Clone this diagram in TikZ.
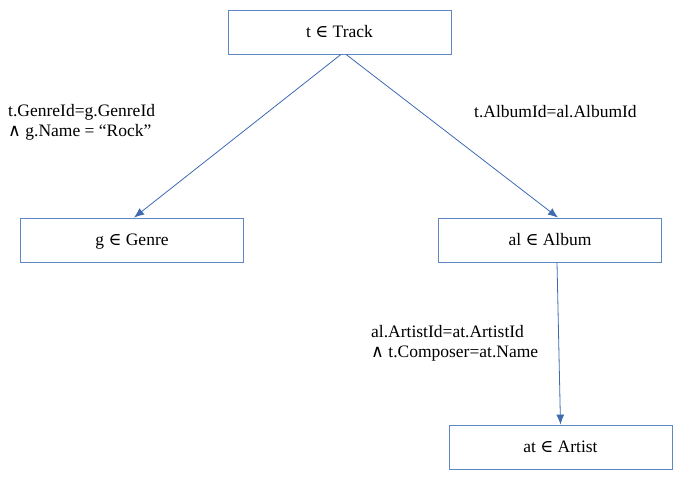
\documentclass[tikz,border=0pt]{standalone}
\usepackage{fontspec}
\setmainfont{Liberation Serif}
\newfontfamily\symfont{DejaVu Serif}
\usetikzlibrary{arrows.meta}
\definecolor{boxline}{RGB}{95,135,195}
\definecolor{edgeline}{RGB}{62,106,176}
\newcommand{\isin}{{\symfont ∈}}
\newcommand{\andop}{{\symfont ∧}}

\begin{document}
\begin{tikzpicture}[x=1pt,y=-1pt,
		relbox/.style={draw=boxline,line width=0.8pt,minimum width=223pt,minimum height=44pt,inner sep=0pt,text depth=1pt,font=\fontsize{17.5}{20}\selectfont},
		joinarrow/.style={draw=edgeline,line width=0.8pt,-{Latex[length=10pt,width=8pt]}},
		cond/.style={anchor=west,align=left,inner sep=0pt,font=\fontsize{17.5}{20}\selectfont}]

	\useasboundingbox (0,0) rectangle (686,487);

	% relations
	\node[relbox] (track) at (339.5,32) {t \isin{} Track};
	\node[relbox] (genre) at (132,240) {g \isin{} Genre};
	\node[relbox] (album) at (550,240) {al \isin{} Album};
	\node[relbox] (artist) at (560.5,447) {at \isin{} Artist};

	% joins
	\draw[joinarrow] ([xshift=1.5pt]track.south) -- ([xshift=2pt]genre.north);
	\draw[joinarrow] ([xshift=6.5pt]track.south) -- ([xshift=8pt]album.north);
	\draw[joinarrow] ([xshift=7pt]album.south) -- (artist.north);

	% conditions
	\node[cond] (condgenre) at (8,122) {t.GenreId=g.GenreId\\\andop{} g.Name = “Rock”};
	\node[cond] (condalbum) at (474,112) {t.AlbumId=al.AlbumId};
	\node[cond] (condartist) at (371,343) {al.ArtistId=at.ArtistId\\\andop{} t.Composer=at.Name};
\end{tikzpicture}
\end{document}
